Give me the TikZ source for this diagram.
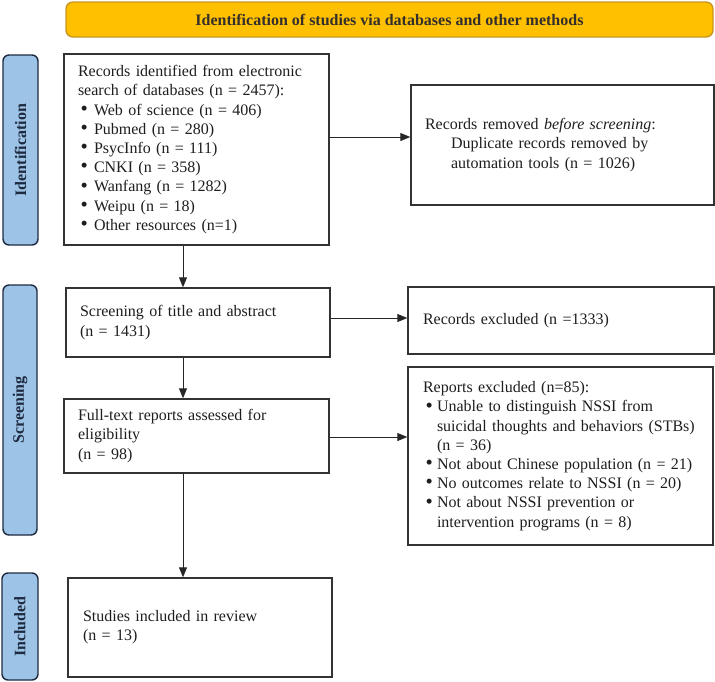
\documentclass[tikz,border=0pt]{standalone}
\usepackage{fontspec}
\setmainfont{Liberation Serif}
\usetikzlibrary{arrows.meta}
\definecolor{bannerfill}{HTML}{FFC000}
\definecolor{bannerline}{HTML}{C8961E}
\definecolor{phasefill}{HTML}{9DC3E6}
\definecolor{phaseline}{HTML}{1E2A40}
\definecolor{boxline}{HTML}{333333}
\definecolor{txt}{HTML}{1E1E1E}
\newcommand\bxfont{\fontsize{16}{19.2}\selectfont}
\newcommand\bitem[1]{\makebox[#1][l]{\hspace{2.5pt}\raisebox{-0.3pt}{\scalebox{1.3}{•}}}}
\begin{document}
\begin{tikzpicture}[x=1pt,y=-1pt,
  bx/.style={draw=boxline, line width=1.4pt, fill=white, align=left,
    inner xsep=14pt, inner ysep=0pt, font=\bxfont, text=txt},
  phase/.style={draw=phaseline, fill=phasefill, rounded corners=6pt, line width=1.4pt,
    font=\bfseries\bxfont, text=phaseline, rotate=90, inner sep=0pt},
  banner/.style={draw=bannerline, fill=bannerfill, rounded corners=7pt, line width=1.4pt,
    font=\bfseries\bxfont, text=black!85!yellow!50!black, inner sep=0pt},
  arr/.style={draw=black!85, line width=1pt, -{Triangle[length=10pt,width=8pt]}}]
\useasboundingbox (0,0) rectangle (715,681);
% banner
\node[banner, minimum width=647pt, minimum height=35pt] (ban) at (389.5,19.5)
  {Identification of studies via databases and other methods};
% phase bars
\node[phase, minimum width=190pt, minimum height=35pt] (pid) at (20.5,150) {Identification};
\node[phase, minimum width=250pt, minimum height=34pt] (pscr) at (20,410) {Screening};
\node[phase, minimum width=107pt, minimum height=36pt] (pinc) at (20,626.5) {Included};
% boxes
\node[bx, minimum width=265pt, minimum height=191pt, text width=237pt] (id) at (196.5,149.5)
  {Records identified from electronic\\
   search of databases (n = 2457):\\
   \bitem{16pt}Web of science (n = 406)\\
   \bitem{16pt}Pubmed (n = 280)\\
   \bitem{16pt}PsycInfo (n = 111)\\
   \bitem{16pt}CNKI (n = 358)\\
   \bitem{16pt}Wanfang (n = 1282)\\
   \bitem{16pt}Weipu (n = 18)\\
   \bitem{16pt}Other resources (n=1)};
\node[bx, minimum width=303pt, minimum height=120pt, text width=275pt] (rem) at (562.5,145)
  {Records removed \textit{before screening}:\\
   \hspace*{26pt}Duplicate records removed by\\
   \hspace*{26pt}automation tools (n = 1026)};
\node[bx, minimum width=264pt, minimum height=69pt, text width=236pt] (scr) at (198,322.5)
  {Screening of title and abstract\\(n = 1431)};
\node[bx, minimum width=306pt, minimum height=67pt, text width=276pt, inner xsep=15pt] (excl) at (561,320.5)
  {Records excluded (n =1333)};
\node[bx, minimum width=265pt, minimum height=74pt, text width=237pt] (ft) at (196.5,436)
  {Full-text reports assessed for\\eligibility\\(n = 98)};
\node[bx, minimum width=305pt, minimum height=178pt, text width=275pt, inner xsep=15pt] (rep) at (560.5,456)
  {Reports excluded (n=85):\\
   \bitem{14pt}Unable to distinguish NSSI from\\
   \hspace*{14pt}suicidal thoughts and behaviors (STBs)\\
   \hspace*{14pt}(n = 36)\\
   \bitem{14pt}Not about Chinese population (n = 21)\\
   \bitem{14pt}No outcomes relate to NSSI (n = 20)\\
   \bitem{14pt}Not about NSSI prevention or\\
   \hspace*{14pt}intervention programs (n = 8)};
\node[bx, minimum width=264pt, minimum height=99pt, text width=234pt, inner xsep=15pt] (inc) at (200,627.5)
  {Studies included in review\\(n = 13)};
% connector guides
\coordinate (vx) at (183,0);
\coordinate (h1) at (0,137);
\coordinate (h2) at (0,318);
\coordinate (h3) at (0,437);
% connectors
\draw[arr] (id.east |- h1) -- (rem.west |- h1);
\draw[arr] (id.south -| vx) -- (scr.north -| vx);
\draw[arr] (scr.east |- h2) -- (excl.west |- h2);
\draw[arr] (scr.south -| vx) -- (ft.north -| vx);
\draw[arr] (ft.east |- h3) -- (rep.west |- h3);
\draw[arr] (ft.south -| vx) -- (inc.north -| vx);
\end{tikzpicture}
\end{document}
